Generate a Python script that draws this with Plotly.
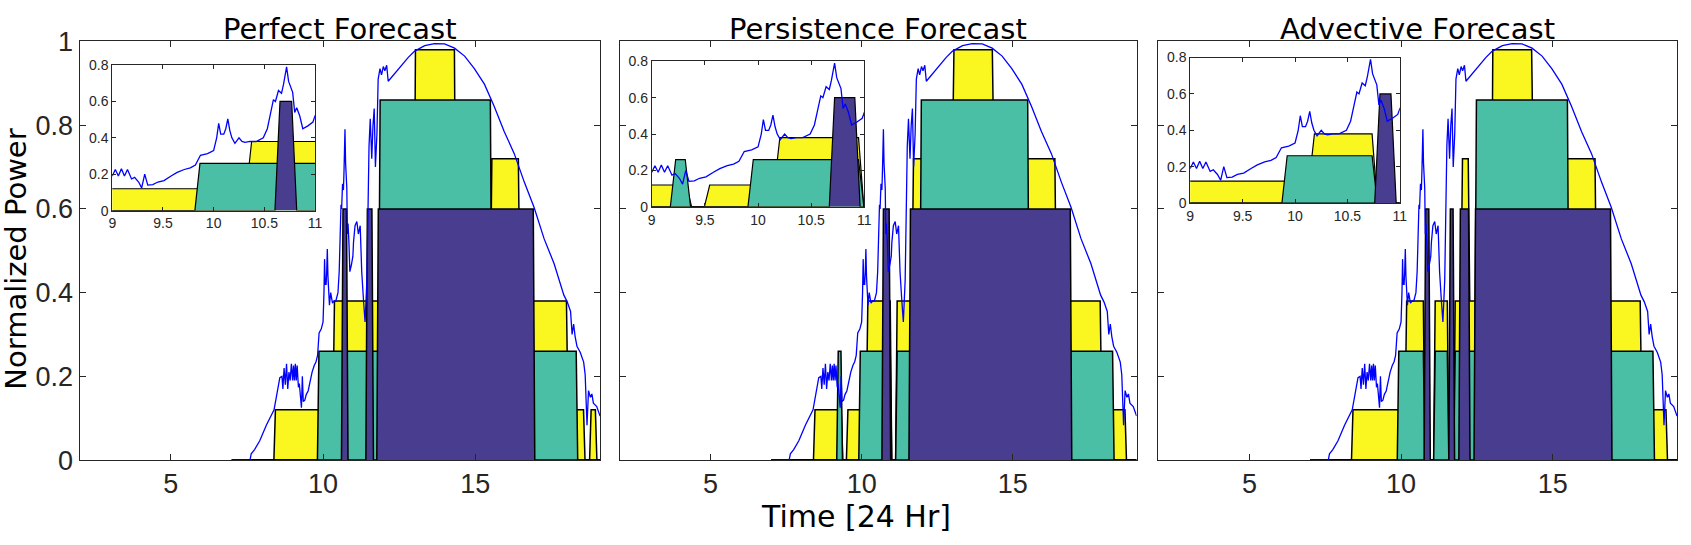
import plotly.graph_objects as go

W, H = 1691, 545

# measured power (same for every panel)
power_t = [7.0, 7.6, 7.64, 7.75, 7.92, 8.14, 8.39, 8.5, 8.58, 8.65, 8.68, 8.72, 8.76, 8.8, 8.84,
           8.88, 8.92, 8.96, 9.0, 9.03, 9.06, 9.09, 9.12, 9.15, 9.19, 9.22, 9.26, 9.29, 9.32,
           9.35, 9.4, 9.45, 9.51, 9.58, 9.64, 9.71, 9.77, 9.82, 9.87, 9.94, 10.0, 10.03, 10.05,
           10.07, 10.1, 10.12, 10.14, 10.16, 10.18, 10.21, 10.25, 10.28, 10.31, 10.36, 10.42,
           10.49, 10.53, 10.56, 10.59, 10.61, 10.64, 10.67, 10.69, 10.72, 10.74, 10.78, 10.8,
           10.82, 10.85, 10.88, 10.93, 10.98, 11.0, 11.05, 11.11, 11.16, 11.22, 11.27, 11.33,
           11.38, 11.44, 11.47, 11.51, 11.55, 11.6, 11.64, 11.68, 11.72, 11.77, 11.81, 11.87,
           11.92, 11.98, 12.03, 12.09, 12.14, 12.36, 12.58, 12.8, 13.01, 13.34, 13.66, 13.99,
           14.32, 14.65, 14.97, 15.3, 15.62, 15.95, 16.28, 16.61, 16.93, 17.26, 17.59, 17.91,
           18.02, 18.13, 18.18, 18.23, 18.28, 18.34, 18.45, 18.56, 18.61, 18.67, 18.72, 18.78,
           18.83, 18.88, 18.99, 19.1]
power_v = [0.0, 0.0, 0.015, 0.025, 0.046, 0.084, 0.12, 0.16, 0.197, 0.2, 0.17, 0.22, 0.18, 0.23, 0.17,
           0.21, 0.19, 0.23, 0.19, 0.226, 0.19, 0.23, 0.19, 0.226, 0.174, 0.183, 0.157, 0.125, 0.2,
           0.14, 0.143, 0.157, 0.165, 0.19, 0.21, 0.226, 0.235, 0.25, 0.304, 0.313, 0.33, 0.4, 0.48,
           0.42, 0.42, 0.45, 0.504, 0.44, 0.4, 0.37, 0.4, 0.38, 0.375, 0.38, 0.38,
           0.4, 0.45, 0.53, 0.61, 0.6, 0.66, 0.645, 0.695, 0.79, 0.71, 0.65, 0.54,
           0.565, 0.52, 0.45, 0.466, 0.487, 0.52, 0.56, 0.57, 0.54, 0.56, 0.45, 0.38,
           0.33, 0.43, 0.6, 0.75, 0.815, 0.72, 0.8, 0.84, 0.7, 0.78, 0.91, 0.935,
           0.92, 0.94, 0.93, 0.943, 0.905, 0.924, 0.943, 0.962, 0.977, 0.99, 0.995, 0.994,
           0.984, 0.965, 0.935, 0.898, 0.845, 0.785, 0.732, 0.664, 0.604, 0.529, 0.469, 0.394,
           0.378, 0.355, 0.30, 0.325, 0.295, 0.272, 0.257, 0.234, 0.204, 0.083, 0.166, 0.15,
           0.158, 0.136, 0.128, 0.105]

# schedule levels: level[i] holds from t[i] until t[i+1]
perfect_yellow_t = [8.41, 10.35, 13.01, 14.34, 15.52, 16.44, 18.02, 18.58, 18.78, 18.97]
perfect_yellow_v = [0.12, 0.38, 0.98, 0.38, 0.72, 0.38, 0.12, 0.0, 0.12, 0.0]
perfect_teal_t = [9.84, 11.85, 15.52, 18.34]
perfect_teal_v = [0.26, 0.86, 0.26, 0.0]
perfect_purple_t = [10.63, 10.795, 11.43, 11.63, 11.79, 16.93]
perfect_purple_v = [0.6, 0.0, 0.6, 0.0, 0.6, 0.0]

persist_yellow_t = [8.43, 9.35, 9.52, 10.18, 10.97, 11.15, 11.69, 13.03, 14.35, 16.42, 17.92, 18.74]
persist_yellow_v = [0.12, 0.0, 0.12, 0.38, 0.0, 0.38, 0.72, 0.98, 0.72, 0.38, 0.12, 0.0]
persist_teal_t = [9.2, 9.34, 9.93, 10.97, 11.15, 11.95, 15.52, 18.33]
persist_teal_v = [0.26, 0.0, 0.26, 0.0, 0.26, 0.86, 0.26, 0.0]
persist_purple_t = [10.695, 10.935, 11.59, 16.93]
persist_purple_v = [0.6, 0.0, 0.6, 0.0]

advect_yellow_t = [8.39, 10.16, 10.76, 11.1, 11.55, 11.76, 12.0, 12.24, 13.0, 14.33, 16.42, 17.91, 18.76]
advect_yellow_v = [0.12, 0.38, 0.0, 0.38, 0.0, 0.38, 0.72, 0.38, 0.98, 0.72, 0.38, 0.12, 0.0]
advect_teal_t = [9.9, 10.76, 11.1, 11.55, 11.76, 12.46, 15.51, 18.33]
advect_teal_v = [0.26, 0.0, 0.26, 0.0, 0.26, 0.86, 0.26, 0.0]
advect_purple_t = [10.785, 10.94, 11.6, 11.74, 11.93, 12.25, 12.43, 16.93]
advect_purple_v = [0.6, 0.0, 0.6, 0.0, 0.6, 0.0, 0.6, 0.0]

titles = ['Perfect Forecast', 'Persistence Forecast', 'Advective Forecast']
main_xticks = [5, 10, 15]
main_yticks = [0, 0.2, 0.4, 0.6, 0.8, 1]
inset_xticks = [9, 9.5, 10, 10.5, 11]
inset_yticks = [0, 0.2, 0.4, 0.6, 0.8]

YELLOW = '#f9f71f'
TEAL = '#4bbfa5'
PURPLE = '#483d8e'
AX = '#262626'
RAMP = 0.05


def step_xy(t, v, start=7.0, stop=19.1):
    xs, ys, prev = [start], [0.0], 0.0
    for ti, vi in zip(t, v):
        xs += [ti - RAMP / 2, ti + RAMP / 2]
        ys += [prev, vi]
        prev = vi
    xs.append(stop)
    ys.append(prev)
    return xs, ys


panels = [
    [(perfect_yellow_t, perfect_yellow_v, YELLOW), (perfect_teal_t, perfect_teal_v, TEAL),
     (perfect_purple_t, perfect_purple_v, PURPLE)],
    [(persist_yellow_t, persist_yellow_v, YELLOW), (persist_teal_t, persist_teal_v, TEAL),
     (persist_purple_t, persist_purple_v, PURPLE)],
    [(advect_yellow_t, advect_yellow_v, YELLOW), (advect_teal_t, advect_teal_v, TEAL),
     (advect_purple_t, advect_purple_v, PURPLE)],
]

# pixel boxes (left, right, top, bottom)
main_box = [(76, 600, 28, 471), (620, 1140, 28, 471), (1162, 1684, 28, 471)]
inset_box = [(109, 313, 53, 207), (652, 866, 49, 203), (1194, 1405, 45, 199)]

fig = go.Figure()


def add_panel(layers, xa, ya, lw):
    for t, v, col in layers:
        xs, ys = step_xy(t, v)
        fig.add_trace(go.Scatter(x=xs, y=ys, mode='lines', fill='tozeroy', fillcolor=col,
                                 line=dict(color='black', width=lw), xaxis=xa, yaxis=ya,
                                 hoverinfo='skip', showlegend=False))
    fig.add_trace(go.Scatter(x=power_t, y=power_v, mode='lines',
                             line=dict(color='#0000ff', width=1.3), xaxis=xa, yaxis=ya,
                             showlegend=False))


for i in range(3):
    add_panel(panels[i], 'x' if i == 0 else f'x{i + 1}', 'y' if i == 0 else f'y{i + 1}', 1.5)
for i in range(3):
    add_panel(panels[i], f'x{i + 4}', f'y{i + 4}', 1.2)

layout = dict(width=W, height=H, margin=dict(l=0, r=0, t=0, b=0),
              paper_bgcolor='white', plot_bgcolor='white', showlegend=False)

for i in range(6):
    n = i + 1
    main = i < 3
    l, r, t, b = main_box[i] if main else inset_box[i - 3]
    xkey = 'xaxis' if n == 1 else f'xaxis{n}'
    ykey = 'yaxis' if n == 1 else f'yaxis{n}'
    xid = 'x' if n == 1 else f'x{n}'
    yid = 'y' if n == 1 else f'y{n}'
    tick_font = dict(family='Liberation Sans, Arial, sans-serif',
                     size=27 if main else 14, color=AX)
    common = dict(showline=True, linecolor=AX, linewidth=1, mirror='allticks',
                  ticks='inside', ticklen=6 if main else 4, tickcolor=AX,
                  showgrid=False, zeroline=False, tickfont=tick_font, fixedrange=True)
    layout[xkey] = dict(common, domain=[l / W, r / W], anchor=yid,
                        range=[2, 19.1] if main else [9, 11],
                        tickvals=main_xticks if main else inset_xticks,
                        ticktext=[str(v) for v in (main_xticks if main else inset_xticks)])
    layout[ykey] = dict(common, domain=[1 - b / H, 1 - t / H], anchor=xid,
                        range=[0, 1] if main else [0, 0.8],
                        tickvals=main_yticks if main else inset_yticks,
                        ticktext=[f'{v:g}' for v in (main_yticks if main else inset_yticks)],
                        showticklabels=(i == 0) or not main)

fig.update_layout(**layout)

label_font = dict(family='DejaVu Sans, sans-serif', size=29, color='black')
for i, title in enumerate(titles):
    l, r, t, b = main_box[i]
    fig.add_annotation(text=title, x=(l + r) / 2 / W, y=1 - 15 / H, xref='paper', yref='paper',
                       showarrow=False, xanchor='center', yanchor='middle', font=label_font)
fig.add_annotation(text='Time [24 Hr]', x=858 / W, y=1 - 531 / H, xref='paper', yref='paper',
                   showarrow=False, xanchor='center', yanchor='middle',
                   font=dict(label_font, size=30))
fig.add_annotation(text='Normalized Power', x=12 / W, y=1 - 258 / H, xref='paper', yref='paper',
                   showarrow=False, xanchor='center', yanchor='middle', textangle=-90,
                   font=label_font)

fig.write_html('out.html', config={'displayModeBar': False},
               post_script="document.body.style.margin='0';")
